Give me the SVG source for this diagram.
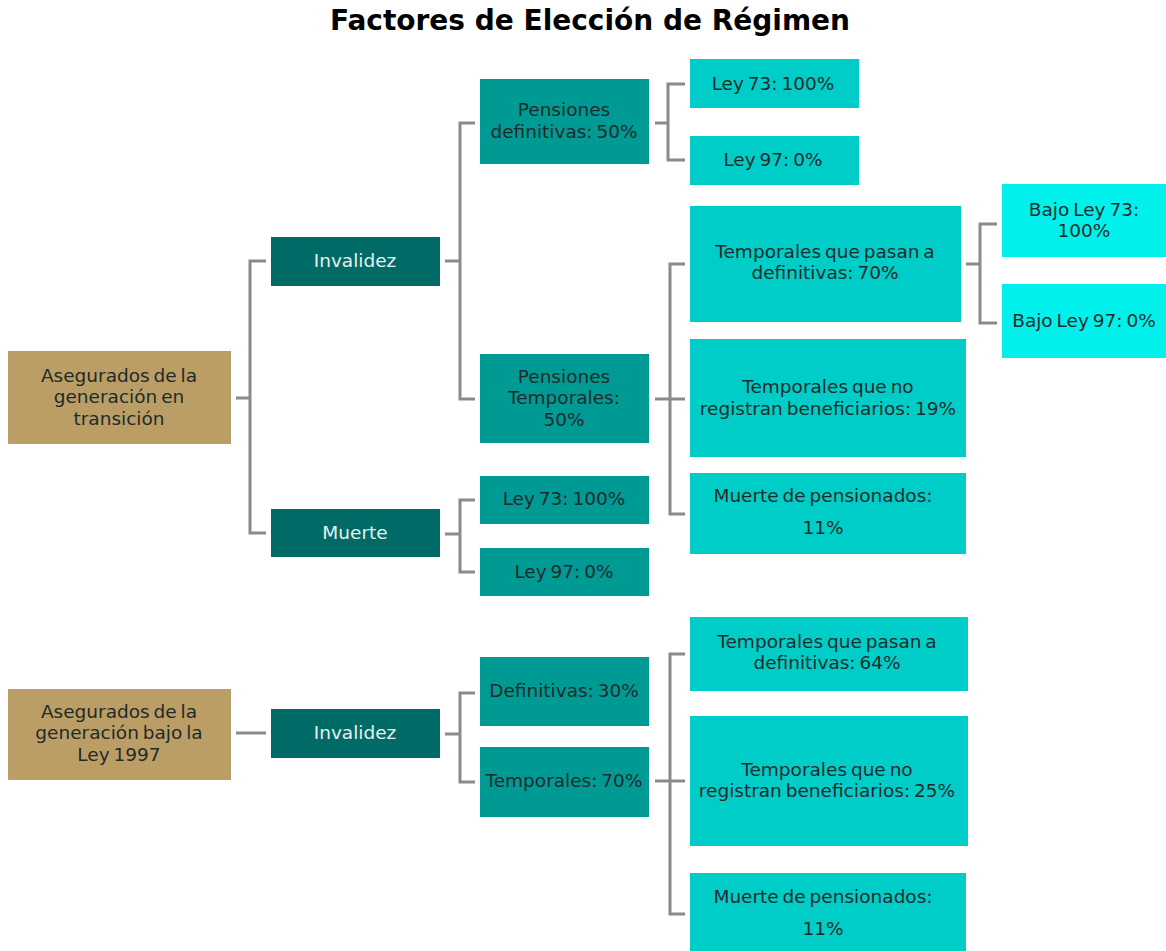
<svg xmlns="http://www.w3.org/2000/svg" width="1166" height="951" viewBox="0 0 1166 951">
<style>
.tan{fill:#BB9E66}
.dk{fill:#006B66}
.md{fill:#009A94}
.lt{fill:#00CDC8}
.cy{fill:#00F0EC}
text{font-family:"DejaVu Sans","Liberation Sans",sans-serif;font-size:18.5px;text-anchor:middle;fill:#1E2B2A;word-spacing:-2px}
.w{fill:#E6EFEE}
.title{font-size:28px;font-weight:bold;fill:#000;word-spacing:0}
.c{fill:none;stroke:#8A8A8A;stroke-width:3}
</style>
<rect width="1166" height="951" fill="#fff"/>
<text class="title" x="590" y="30">Factores de Elección de Régimen</text>
<g id="connectors">
<path class="c" d="M236,398H250M266,261H250V533H266"/>
<path class="c" d="M445,261H460M475,123H460V399H475"/>
<path class="c" d="M655,123H668M685,84H668V160H685"/>
<path class="c" d="M655,399H685M685,264H670V514H685"/>
<path class="c" d="M966,264H980M997,224H980V323H997"/>
<path class="c" d="M445,534H460M475,500H460V572H475"/>
<path class="c" d="M236,733H266"/>
<path class="c" d="M445,734H460M475,693H460V782H475"/>
<path class="c" d="M655,781H685M685,654H670V914H685"/>
</g>
<g id="root1"><rect class="tan" x="8" y="351" width="223" height="93"/><text x="119" y="382">Asegurados de la</text><text x="119" y="403">generación en</text><text x="119" y="425">transición</text></g>
<g id="invalidez1"><rect class="dk" x="271" y="237" width="169" height="49"/><text class="w" x="355" y="267">Invalidez</text></g>
<g id="muerte1"><rect class="dk" x="271" y="509" width="169" height="48"/><text class="w" x="355" y="539">Muerte</text></g>
<g id="pensdef"><rect class="md" x="480" y="79" width="169" height="85"/><text x="564" y="116">Pensiones</text><text x="564" y="138">definitivas:  50%</text></g>
<g id="penstemp"><rect class="md" x="480" y="354" width="169" height="89"/><text x="564" y="383">Pensiones</text><text x="564" y="404">Temporales:</text><text x="564" y="426">50%</text></g>
<g id="m_ley73"><rect class="md" x="480" y="476" width="169" height="48"/><text x="564" y="505">Ley 73: 100%</text></g>
<g id="m_ley97"><rect class="md" x="480" y="548" width="169" height="48"/><text x="564" y="578">Ley 97: 0%</text></g>
<g id="d_ley73"><rect class="lt" x="690" y="59" width="169" height="49"/><text x="773" y="90">Ley 73: 100%</text></g>
<g id="d_ley97"><rect class="lt" x="690" y="136" width="169" height="49"/><text x="773" y="166">Ley 97: 0%</text></g>
<g id="tpd70"><rect class="lt" x="690" y="206" width="271" height="116"/><text x="825" y="258">Temporales que pasan a</text><text x="825" y="279">definitivas: 70%</text></g>
<g id="tnr19"><rect class="lt" x="690" y="339" width="276" height="118"/><text x="828" y="393">Temporales que no</text><text x="828" y="415">registran beneficiarios: 19%</text></g>
<g id="mp11a"><rect class="lt" x="690" y="473" width="276" height="81"/><text x="823" y="502">Muerte de pensionados:</text><text x="823" y="534">11%</text></g>
<g id="bajo73"><rect class="cy" x="1002" y="184" width="164" height="73"/><text x="1084" y="216">Bajo Ley 73:</text><text x="1084" y="237">100%</text></g>
<g id="bajo97"><rect class="cy" x="1002" y="284" width="164" height="74"/><text x="1084" y="327">Bajo Ley 97: 0%</text></g>
<g id="root2"><rect class="tan" x="8" y="689" width="223" height="91"/><text x="119" y="718">Asegurados de la</text><text x="119" y="739">generación bajo la</text><text x="119" y="761">Ley 1997</text></g>
<g id="invalidez2"><rect class="dk" x="271" y="709" width="169" height="49"/><text class="w" x="355" y="739">Invalidez</text></g>
<g id="def30"><rect class="md" x="480" y="657" width="169" height="69"/><text x="564" y="697">Definitivas:  30%</text></g>
<g id="temp70"><rect class="md" x="480" y="747" width="169" height="70"/><text x="564" y="787">Temporales:  70%</text></g>
<g id="tpd64"><rect class="lt" x="690" y="617" width="278" height="74"/><text x="827" y="648">Temporales que pasan a</text><text x="827" y="669">definitivas:  64%</text></g>
<g id="tnr25"><rect class="lt" x="690" y="716" width="278" height="130"/><text x="827" y="776">Temporales que no</text><text x="827" y="797">registran beneficiarios:  25%</text></g>
<g id="mp11b"><rect class="lt" x="690" y="873" width="276" height="78"/><text x="823" y="903">Muerte de pensionados:</text><text x="823" y="935">11%</text></g>
</svg>
